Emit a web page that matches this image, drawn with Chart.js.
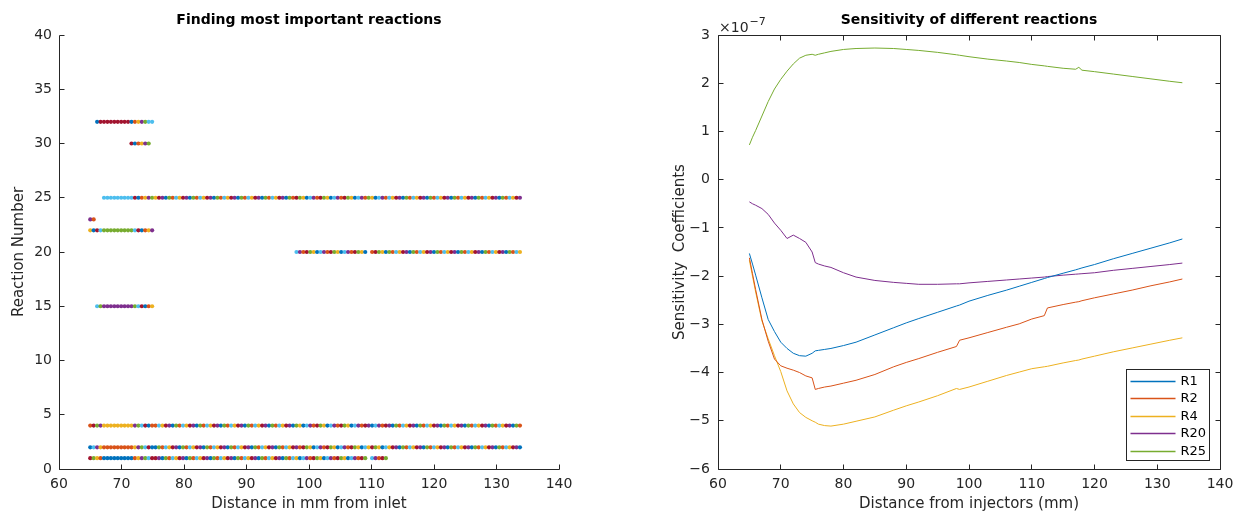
<!DOCTYPE html>
<html><head><meta charset="utf-8">
<script src="https://cdn.jsdelivr.net/npm/chart.js@4/dist/chart.umd.min.js"></script>
<style>
html,body{margin:0;padding:0;background:#fff;}
#wrap{position:relative;width:1233px;height:515px;overflow:hidden;background:#fff;}
#c1{position:absolute;left:0;top:0;}
#c2{position:absolute;left:616px;top:0;}
</style></head><body>
<div id="wrap"><canvas id="c1" width="616" height="515"></canvas><canvas id="c2" width="617" height="515"></canvas></div>
<script>
// ---------- LEFT CHART DATA ----------
const sampleDistances = [
65.00,65.55,66.10,66.65,67.20,67.75,68.30,68.85,69.40,69.95,70.50,71.05,71.60,72.15,72.70,73.25,73.80,74.35,74.90,75.45,
76.00,76.55,77.10,77.65,78.20,78.75,79.30,79.85,80.40,80.95,81.50,82.05,82.60,83.15,83.70,84.25,84.80,85.35,85.90,86.45,
87.00,87.55,88.10,88.65,89.20,89.75,90.30,90.85,91.40,91.95,92.50,93.05,93.60,94.15,94.70,95.25,95.80,96.35,96.90,97.45,
98.00,98.55,99.10,99.65,100.20,100.75,101.30,101.85,102.40,102.95,103.50,104.05,104.60,105.15,105.70,106.25,106.80,107.35,107.90,108.45,
109.00,109.55,110.10,110.65,111.20,111.75,112.30,112.85,113.40,113.95,114.50,115.05,115.60,116.15,116.70,117.25,117.80,118.35,118.90,119.45,
120.00,120.55,121.10,121.65,122.20,122.75,123.30,123.85,124.40,124.95,125.50,126.05,126.60,127.15,127.70,128.25,128.80,129.35,129.90,130.45,
131.00,131.55,132.10,132.65,133.20,133.75];
const reactionNumbers = [1, 2, 4, 15, 20, 22, 23, 25, 30, 32];
// distance ranges (mm) where each reaction is flagged as important
const reactionRanges = [
  [[65, 109.1], [110, 112.6]],   // 1
  [[65, 134]],                   // 2
  [[65, 134]],                   // 4
  [[66, 75.2]],                  // 15
  [[98, 109.1], [110, 134]],     // 20
  [[65, 75.2]],                  // 22
  [[65, 65.6]],                  // 23
  [[67.2, 134]],                 // 25
  [[71.5, 74.4]],                // 30
  [[66, 75.2]]                   // 32
];
const leftXTicks = [60, 70, 80, 90, 100, 110, 120, 130, 140];
const leftYTicks = [0, 5, 10, 15, 20, 25, 30, 35, 40];

// ---------- RIGHT CHART DATA (values x 1e-7) ----------
const sensX = [65,65.5,66,67,68,69,70,71,72,73,74,75,75.5,76,77,78,80,82,85,88,90,92,95,98,98.5,100,103,106,108,110,112,112.5,115,117,117.5,118,120,123,126,129,132,134];
const sensR1 = [-1.53,-1.75,-1.98,-2.45,-2.9,-3.15,-3.37,-3.5,-3.6,-3.65,-3.66,-3.6,-3.55,-3.54,-3.52,-3.5,-3.44,-3.37,-3.22,-3.07,-2.97,-2.88,-2.75,-2.62,-2.6,-2.52,-2.4,-2.29,-2.21,-2.13,-2.05,-2.03,-1.94,-1.87,-1.85,-1.83,-1.76,-1.64,-1.53,-1.42,-1.31,-1.23];
const sensR2 = [-1.62,-1.95,-2.28,-2.9,-3.35,-3.72,-3.86,-3.91,-3.95,-4.0,-4.07,-4.11,-4.35,-4.33,-4.3,-4.28,-4.22,-4.16,-4.04,-3.88,-3.79,-3.71,-3.58,-3.46,-3.33,-3.28,-3.17,-3.06,-2.99,-2.89,-2.82,-2.66,-2.59,-2.54,-2.53,-2.51,-2.45,-2.37,-2.29,-2.2,-2.12,-2.06];
const sensR4 = [-1.67,-2.0,-2.33,-2.93,-3.3,-3.65,-3.98,-4.38,-4.65,-4.83,-4.93,-5.0,-5.03,-5.07,-5.1,-5.11,-5.07,-5.01,-4.92,-4.78,-4.69,-4.61,-4.48,-4.33,-4.35,-4.3,-4.18,-4.06,-3.99,-3.92,-3.88,-3.87,-3.8,-3.75,-3.74,-3.72,-3.66,-3.57,-3.49,-3.41,-3.33,-3.28];
const sensR20 = [-0.46,-0.5,-0.53,-0.6,-0.72,-0.9,-1.05,-1.22,-1.15,-1.22,-1.3,-1.5,-1.72,-1.75,-1.79,-1.82,-1.93,-2.02,-2.09,-2.13,-2.15,-2.17,-2.17,-2.16,-2.16,-2.14,-2.11,-2.08,-2.06,-2.04,-2.02,-2.01,-1.98,-1.96,-1.955,-1.95,-1.93,-1.88,-1.84,-1.8,-1.76,-1.73];
const sensR25 = [0.72,0.88,1.02,1.32,1.62,1.88,2.08,2.25,2.4,2.52,2.58,2.6,2.58,2.6,2.63,2.66,2.7,2.72,2.73,2.72,2.7,2.68,2.64,2.59,2.58,2.55,2.5,2.46,2.43,2.39,2.36,2.35,2.31,2.29,2.33,2.27,2.24,2.19,2.14,2.09,2.04,2.01];
const sensLabels = ['R1', 'R2', 'R4', 'R20', 'R25'];
const rightXTicks = [60, 70, 80, 90, 100, 110, 120, 130, 140];
const rightYTicks = [-6, -5, -4, -3, -2, -1, 0, 1, 2, 3];

// ---------- STYLE ----------
const FONT = "'DejaVu Sans', sans-serif";
Chart.defaults.font.family = FONT;
const MATLAB = ['#0072BD', '#D95319', '#EDB120', '#7E2F8E', '#77AC30', '#4DBEEE', '#A2142F'];
const AXIS_COLOR = '#262626';
const fmt = v => (v < 0 ? '\u2212' + Math.abs(v) : String(v));

// inward ticks + axis lines (MATLAB style)
const matlabAxes = {
  id: 'matlabAxes',
  afterDraw(chart, args, opts) {
    const {ctx, chartArea: a, scales: {x, y}} = chart;
    const L = Math.floor(a.left) + 0.5, R = Math.floor(a.right) + 0.5;
    const T = Math.floor(a.top) + 0.5, B = Math.floor(a.bottom) + 0.5;
    ctx.save();
    ctx.strokeStyle = AXIS_COLOR; ctx.lineWidth = 1;
    ctx.beginPath();
    ctx.moveTo(L, T); ctx.lineTo(L, B); ctx.lineTo(R, B);
    if (opts.box) { ctx.lineTo(R, T); ctx.lineTo(L, T); }
    const tl = 5;
    x.ticks.forEach(t => {
      const px = Math.floor(x.getPixelForValue(t.value)) + 0.5;
      ctx.moveTo(px, B); ctx.lineTo(px, B - tl);
      if (opts.box) { ctx.moveTo(px, T); ctx.lineTo(px, T + tl); }
    });
    y.ticks.forEach(t => {
      const py = Math.floor(y.getPixelForValue(t.value)) + 0.5;
      ctx.moveTo(L, py); ctx.lineTo(L + tl, py);
      if (opts.box) { ctx.moveTo(R, py); ctx.lineTo(R - tl, py); }
    });
    ctx.stroke();
    ctx.restore();
  }
};

function axisCommon(ticksArr) {
  return {
    type: 'linear',
    afterBuildTicks: s => { s.ticks = ticksArr.map(v => ({value: v})); },
    grid: {display: false, drawTicks: false, tickLength: 0},
    border: {display: false},
    ticks: {color: AXIS_COLOR, font: {size: 14, family: FONT}, padding: 7, maxRotation: 0, autoSkip: false, callback: v => fmt(v)}
  };
}

// ---------- LEFT CHART ----------
const pts = [], cols = [];
let counter = 6;
sampleDistances.forEach(d => {
  reactionNumbers.forEach((r, i) => {
    if (reactionRanges[i].some(([a, b]) => d >= a && d <= b)) {
      pts.push({x: d, y: r});
      cols.push(MATLAB[counter % 7]);
      counter++;
    }
  });
});

const lx = axisCommon(leftXTicks);
lx.min = 60; lx.max = 140;
lx.afterFit = s => { s.height = 46; s.paddingLeft = 0; s.paddingRight = 0; };
lx.title = {display: true, text: 'Distance in mm from inlet', color: AXIS_COLOR, font: {size: 15, family: FONT}, padding: {top: 0, bottom: 2}};
const ly = axisCommon(leftYTicks);
ly.min = 0; ly.max = 40;
ly.afterFit = s => { s.width = 59; s.paddingTop = 0; s.paddingBottom = 0; };
ly.title = {display: true, text: 'Reaction Number', color: AXIS_COLOR, font: {size: 15, family: FONT}, padding: {top: 10, bottom: 0}};

new Chart(document.getElementById('c1'), {
  type: 'scatter',
  data: {datasets: [{data: pts, pointBackgroundColor: cols, pointBorderWidth: 0, pointRadius: 2.1, pointHoverRadius: 2.1}]},
  options: {
    responsive: false, animation: false, devicePixelRatio: 1,
    layout: {padding: {left: 0, right: 57, top: 0, bottom: 0}},
    plugins: {
      legend: {display: false}, tooltip: {enabled: false},
      title: {display: true, text: 'Finding most important reactions', fullSize: false, color: '#000',
        font: {size: 14, weight: 'bold', family: FONT}, padding: {top: 12, bottom: 6.2}},
      matlabAxes: {box: false}
    },
    scales: {x: lx, y: ly}
  },
  plugins: [matlabAxes]
});

// ---------- RIGHT CHART ----------
const sensSeries = [sensR1, sensR2, sensR4, sensR20, sensR25];
const sensColors = ['#0072BD', '#D95319', '#EDB120', '#7E2F8E', '#77AC30'];

const legendBox = {
  id: 'legendBox',
  afterDraw(chart) {
    const {ctx, chartArea: a} = chart;
    const w = 83, h = 91;
    const x0 = Math.floor(a.right) - 11 - w + 0.5, y0 = Math.floor(a.bottom) - 9 - h + 0.5;
    ctx.save();
    ctx.fillStyle = '#fff'; ctx.fillRect(x0, y0, w, h);
    ctx.strokeStyle = AXIS_COLOR; ctx.lineWidth = 1; ctx.strokeRect(x0, y0, w, h);
    ctx.font = '13px ' + FONT; ctx.textBaseline = 'middle'; ctx.textAlign = 'left';
    chart.data.datasets.forEach((ds, i) => {
      const yy = Math.round(y0 + 11 + i * 17.5) + 0.5;
      ctx.strokeStyle = ds.borderColor; ctx.lineWidth = 1.3;
      ctx.beginPath(); ctx.moveTo(x0 + 4, yy); ctx.lineTo(x0 + 49, yy); ctx.stroke();
      ctx.fillStyle = '#000'; ctx.fillText(ds.label, x0 + 54, yy);
    });
    ctx.restore();
  }
};
const exponentLabel = {
  id: 'exponentLabel',
  afterDraw(chart) {
    const {ctx, chartArea: a} = chart;
    ctx.save();
    ctx.fillStyle = AXIS_COLOR; ctx.textBaseline = 'alphabetic'; ctx.textAlign = 'left';
    ctx.font = '14px ' + FONT;
    const base = '\u00d710';
    ctx.fillText(base, a.left + 1, 32);
    const w = ctx.measureText(base).width;
    ctx.font = '11px ' + FONT;
    ctx.fillText('\u22127', a.left + 2 + w, 25);
    ctx.restore();
  }
};

const rx = axisCommon(rightXTicks);
rx.min = 60; rx.max = 140;
rx.afterFit = s => { s.height = 46; s.paddingLeft = 0; s.paddingRight = 0; };
rx.title = {display: true, text: 'Distance from injectors (mm)', color: AXIS_COLOR, font: {size: 15, family: FONT}, padding: {top: 0, bottom: 2}};
const ry = axisCommon(rightYTicks);
ry.min = -6; ry.max = 3;
ry.afterFit = s => { s.width = 102; s.paddingTop = 0; s.paddingBottom = 0; };
ry.ticks.padding = 8;
ry.title = {display: true, text: 'Sensitivity  Coefficients', color: AXIS_COLOR, font: {size: 15, family: FONT}, padding: {top: 55, bottom: 0}};

new Chart(document.getElementById('c2'), {
  type: 'line',
  data: {
    datasets: sensSeries.map((s, i) => ({
      label: sensLabels[i],
      data: sensX.map((x, j) => ({x: x, y: s[j]})),
      borderColor: sensColors[i], backgroundColor: sensColors[i],
      borderWidth: 1, pointRadius: 0, tension: 0, fill: false
    }))
  },
  options: {
    responsive: false, animation: false, devicePixelRatio: 1,
    layout: {padding: {left: 0, right: 13, top: 0, bottom: 0}},
    plugins: {
      legend: {display: false}, tooltip: {enabled: false},
      title: {display: true, text: 'Sensitivity of different reactions', fullSize: false, color: '#000',
        font: {size: 14, weight: 'bold', family: FONT}, padding: {top: 12, bottom: 6.2}},
      matlabAxes: {box: true}
    },
    scales: {x: rx, y: ry}
  },
  plugins: [matlabAxes, legendBox, exponentLabel]
});
</script>
</body></html>
